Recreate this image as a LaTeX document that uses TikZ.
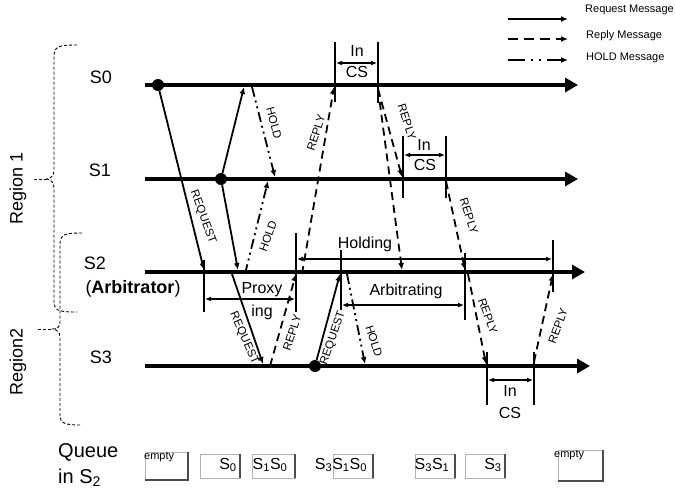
\documentclass[tikz,border=0pt]{standalone}
\usepackage{fontspec}
\setmainfont{Liberation Sans}
\usetikzlibrary{arrows.meta}
\begin{document}
\begin{tikzpicture}[x=1pt,y=-1pt,
  timeline/.style={line width=4pt,-{Triangle[length=13pt,width=14pt]}},
  msg/.style={line width=1.8pt,-{Latex[length=7pt,width=6pt]}},
  replymsg/.style={msg,dash pattern=on 8pt off 5pt},
  holdmsg/.style={msg,dash pattern=on 10pt off 4pt on 2pt off 4pt on 2pt off 4pt},
  bar/.style={line width=1.8pt},
  span/.style={line width=1.4pt,{Latex[length=6pt,width=5pt]}-{Latex[length=6pt,width=5pt]}},
  dotnode/.style={circle,fill,inner sep=0pt,minimum size=12pt},
  tag/.style={font=\fontsize{11.5}{11.5}\selectfont,inner sep=0pt},
  proc/.style={font=\fontsize{18}{18}\selectfont,inner sep=0pt},
  phase/.style={font=\fontsize{16}{16}\selectfont,inner sep=0pt},
  qtext/.style={font=\fontsize{16}{16}\selectfont,inner sep=0pt},
  emptytext/.style={font=\fontsize{11}{11}\selectfont,inner sep=1pt,anchor=north west},
  legendtext/.style={font=\fontsize{11}{11}\selectfont,inner sep=0pt,anchor=west},
  brace/.style={line width=0.9pt,dash pattern=on 3pt off 2pt},
  qbox/.style={draw=gray!60,line width=0.8pt},
  qshade/.style={draw=black!70,line width=1.3pt}
]
\useasboundingbox (0,0) rectangle (675,493);

% ---------- process time lines ----------
\coordinate (s0a) at (145,85);  \coordinate (s0b) at (578,85);
\coordinate (s1a) at (145,179); \coordinate (s1b) at (578,179);
\coordinate (s2a) at (145,272); \coordinate (s2b) at (585,272);
\coordinate (s3a) at (145,366); \coordinate (s3b) at (590,366);
\draw[timeline] (s0a) -- (s0b);
\draw[timeline] (s1a) -- (s1b);
\draw[timeline] (s2a) -- (s2b);
\draw[timeline] (s3a) -- (s3b);

\node[proc] (n0) at (101,77) {S0};
\node[proc] (n1) at (100,170) {S1};
\node[proc] (n2) at (95,263) {S2};
\node[proc] (n2b) at (133,289) {(\textbf{Arbitrator})};
\node[proc] (n3) at (101,357) {S3};

% ---------- regions ----------
\draw[brace] (77,45) .. controls (60,45) and (54,46) .. (54,56) -- (54,170)
  .. controls (54,176) and (51,178) .. (47,179) .. controls (51,180) and (54,182) .. (54,188)
  -- (54,302) .. controls (54,311) and (60,312) .. (77,312);
\draw[brace] (34,179) -- (47,179);
\draw[brace] (82,233) .. controls (66,233) and (60,234) .. (60,244) -- (60,322)
  .. controls (60,327) and (57,329) .. (53,329) .. controls (57,330) and (60,332) .. (60,337)
  -- (60,415) .. controls (60,424) and (66,425) .. (82,425);
\draw[brace] (38,329) -- (53,329);
\node[proc,rotate=90] (reg1) at (18,188) {Region 1};
\node[proc,rotate=90] (reg2) at (18,362) {Region2};

% ---------- phase bars ----------
\coordinate (b1t) at (335,42);  \coordinate (b1b) at (335,102);
\coordinate (b2t) at (378,42);  \coordinate (b2b) at (378,103);
\coordinate (b3t) at (403,136); \coordinate (b3b) at (403,198);
\coordinate (b4t) at (446,136); \coordinate (b4b) at (446,198);
\coordinate (b5t) at (204,260); \coordinate (b5b) at (204,312);
\coordinate (b6t) at (296,233); \coordinate (b6b) at (296,312);
\coordinate (b7t) at (341,250); \coordinate (b7b) at (341,310);
\coordinate (b8t) at (465,253); \coordinate (b8b) at (465,320);
\coordinate (b9t) at (553,240); \coordinate (b9b) at (553,292);
\coordinate (b10t) at (487,352); \coordinate (b10b) at (487,405);
\coordinate (b11t) at (534,352); \coordinate (b11b) at (534,405);
\foreach \b in {1,...,11} \draw[bar] (b\b t) -- (b\b b);

% spans between bars
\coordinate (c1l) at (336,63);  \coordinate (c1r) at (377,63);
\coordinate (c2l) at (404,155); \coordinate (c2r) at (445,155);
\coordinate (c3l) at (488,380); \coordinate (c3r) at (533,380);
\coordinate (pxl) at (205,299); \coordinate (pxr) at (295,299);
\coordinate (hdl) at (297,259); \coordinate (hdr) at (552,259);
\coordinate (arl) at (342,305); \coordinate (arr) at (464,305);
\draw[span] (c1l) -- (c1r);
\draw[span] (c2l) -- (c2r);
\draw[span] (c3l) -- (c3r);
\draw[span] (pxl) -- (pxr);
\draw[span] (hdl) -- (hdr);
\draw[span] (arl) -- (arr);

\node[phase] (cs0a) at (357,51) {In};
\node[phase] (cs0b) at (357,72) {CS};
\node[phase] (cs1a) at (424,145) {In};
\node[phase] (cs1b) at (425,165) {CS};
\node[phase] (cs3a) at (510,391) {In};
\node[phase] (cs3b) at (510,413) {CS};
\node[phase] (pxa) at (262,290) {Proxy};
\node[phase] (pxb) at (262,312) {ing};
\node[phase] (hold) at (365,244) {Holding};
\node[phase] (arb) at (406,291) {Arbitrating};

% ---------- messages ----------
\node[dotnode] (d0) at (158,85) {};
\node[dotnode] (d1) at (221,179) {};
\node[dotnode] (d3) at (315,366) {};

\coordinate (q1e) at (204,270);
\coordinate (q2e) at (244,87);
\coordinate (q3e) at (238,270);
\coordinate (q4s) at (232,274); \coordinate (q4e) at (263,364);
\coordinate (q5e) at (340,274);
\draw[msg] (d0) -- (q1e);
\draw[msg] (d1) -- (q2e);
\draw[msg] (d1) -- (q3e);
\draw[msg] (q4s) -- (q4e);
\draw[msg] (d3) -- (q5e);

\coordinate (h1s) at (252,87);  \coordinate (h1e) at (275,177);
\coordinate (h2s) at (245,274); \coordinate (h2e) at (268,181);
\coordinate (h3s) at (347,274); \coordinate (h3e) at (365,364);
\draw[holdmsg] (h1s) -- (h1e);
\draw[holdmsg] (h2s) -- (h2e);
\draw[holdmsg] (h3s) -- (h3e);

\coordinate (p1s) at (302,274); \coordinate (p1e) at (334,87);
\coordinate (p2s) at (270,366); \coordinate (p2e) at (296,274);
\coordinate (p3s) at (378,89);  \coordinate (p3e) at (402,177);
\coordinate (p4e) at (402,270);
\coordinate (p5s) at (446,181); \coordinate (p5e) at (465,270);
\coordinate (p6s) at (468,274); \coordinate (p6e) at (486,364);
\coordinate (p7s) at (534,362); \coordinate (p7e) at (553,274);
\draw[replymsg] (p1s) -- (p1e);
\draw[replymsg] (p2s) -- (p2e);
\draw[replymsg] (p3s) -- (p3e);
\draw[replymsg] (p3s) -- (p4e);
\draw[replymsg] (p5s) -- (p5e);
\draw[replymsg] (p6s) -- (p6e);
\draw[replymsg] (p7s) -- (p7e);

% message tags
\node[tag,rotate=-70] (t1) at (203,217) {REQUEST};
\node[tag,rotate=-75] (t2) at (274,123) {HOLD};
\node[tag,rotate=70]  (t3) at (268,236) {HOLD};
\node[tag,rotate=72]  (t4) at (316,133) {REPLY};
\node[tag,rotate=-66] (t5) at (244,338) {REQUEST};
\node[tag,rotate=72]  (t6) at (292,333) {REPLY};
\node[tag,rotate=71]  (t7) at (333,338) {REQUEST};
\node[tag,rotate=-72] (t8) at (374,341) {HOLD};
\node[tag,rotate=-72] (t9) at (407,122) {REPLY};
\node[tag,rotate=-72] (t10) at (469,216) {REPLY};
\node[tag,rotate=-70] (t11) at (488,316) {REPLY};
\node[tag,rotate=70]  (t12) at (558,326) {REPLY};

% ---------- legend ----------
\coordinate (lg1a) at (508,19); \coordinate (lg1b) at (568,19);
\coordinate (lg2a) at (508,39); \coordinate (lg2b) at (568,39);
\coordinate (lg3a) at (508,60); \coordinate (lg3b) at (568,60);
\draw[msg] (lg1a) -- (lg1b);
\draw[replymsg,dash pattern=on 10pt off 6pt] (lg2a) -- (lg2b);
\draw[holdmsg,dash pattern=on 17pt off 6pt on 2pt off 6pt on 2pt off 6pt] (lg3a) -- (lg3b);
\node[legendtext] (lt1) at (585,10) {Request Message};
\node[legendtext] (lt2) at (586,36) {Reply Message};
\node[legendtext] (lt3) at (586,58) {HOLD Message};

% ---------- queue contents in S2 ----------
\node[font=\fontsize{20}{20}\selectfont,inner sep=0pt,anchor=west] (qa) at (58,452) {Queue};
\node[font=\fontsize{20}{20}\selectfont,inner sep=0pt,anchor=west] (qb) at (58,478) {in S\textsubscript{2}};

\draw[qbox] (145,452) rectangle (188,480);
\draw[qshade] (145,480) -- (188,480) -- (188,452);
\node[emptytext] (e1) at (143,451) {empty};

\draw[qbox] (200,454) rectangle (240,478);
\draw[qshade] (240,454) -- (240,478);
\node[qtext] (q0) at (228,465) {S\textsubscript{0}};

\draw[qbox] (252,454) rectangle (295,478);
\draw[qshade] (295,454) -- (295,478);
\node[qtext] (q10) at (270,465) {S\textsubscript{1}S\textsubscript{0}};

\draw[qbox] (333,454) rectangle (373,478);
\draw[qshade] (373,454) -- (373,478);
\node[qtext] (q310) at (341,465) {S\textsubscript{3}S\textsubscript{1}S\textsubscript{0}};

\draw[qbox] (415,454) rectangle (455,478);
\draw[qshade] (455,454) -- (455,478);
\node[qtext] (q31) at (432,465) {S\textsubscript{3}S\textsubscript{1}};

\draw[qbox] (465,454) rectangle (505,478);
\draw[qshade] (505,454) -- (505,478);
\node[qtext] (q3) at (493,465) {S\textsubscript{3}};

\draw[qbox] (558,450) rectangle (603,481);
\draw[qshade] (558,481) -- (603,481) -- (603,450);
\node[emptytext] (e2) at (553,449) {empty};
\end{tikzpicture}
\end{document}
